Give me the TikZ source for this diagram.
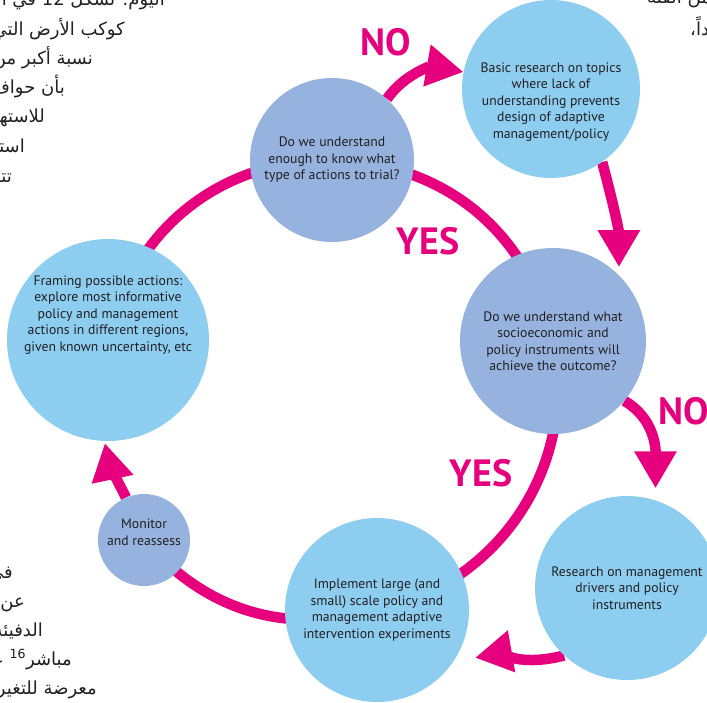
\documentclass[tikz,border=0pt]{standalone}
\usepackage{fontspec}
\setmainfont{PT Sans}
\newfontfamily\arabicfont[Script=Arabic]{DejaVu Sans}
\TeXXeTstate=1
\usetikzlibrary{arrows.meta,backgrounds}
\definecolor{magen}{HTML}{E6007E}
\definecolor{skyblue}{HTML}{8DCDF0}
\definecolor{duskblue}{HTML}{95B3DE}
\definecolor{ink}{HTML}{231F20}
\tikzset{
  bubtext/.style={align=center, text=ink, inner sep=0pt,
                  font=\fontsize{13.7}{16.5}\selectfont},
  bubble/.style={circle, bubtext},
  sky/.style={bubble, fill=skyblue},
  dusk/.style={bubble, fill=duskblue},
  ring/.style={draw=magen, line width=10.5pt},
  ringtip/.style={ring, -{Triangle[width=40pt,length=37pt]}},
  ans/.style={font=\bfseries\fontsize{38}{38}\selectfont, text=magen, inner sep=0pt},
  arline/.style={font=\arabicfont\fontsize{18}{21}\selectfont, text=ink, inner sep=0pt}
}

\begin{document}
\begin{tikzpicture}[x=1pt, y=1pt]
  \useasboundingbox (0,0) rectangle (707,-702);
  \clip (0,0) rectangle (707,-702);

  % text of the page running round the figure
  \node[arline, anchor=base east] (ar1) at (165,-5) {\beginR اليوم. تشكل \beginL 12\endL{} في المئة\endR};
  \node[arline, anchor=base east] (ar2) at (125,-35) {\beginR كوكب الأرض التي\endR};
  \node[arline, anchor=base east] (ar3) at (93,-64) {\beginR نسبة أكبر من\endR};
  \node[arline, anchor=base east] (ar4) at (65,-93) {\beginR بأن حواف\endR};
  \node[arline, anchor=base east] (ar5) at (45,-122) {\beginR للاستهلاك\endR};
  \node[arline, anchor=base east] (ar6) at (25,-152) {\beginR استخدام\endR};
  \node[arline, anchor=base east] (ar7) at (12,-182) {\beginR تتراجع\endR};
  \node[arline, anchor=base east] (ar8) at (13,-578) {\beginR في العالم\endR};
  \node[arline, anchor=base east] (ar9) at (25,-607) {\beginR عن طريق\endR};
  \node[arline, anchor=base east] (ar10) at (43,-636) {\beginR الدفيئة إلى\endR};
  \node[arline, anchor=base east] (ar11) at (72,-665) {\beginR مباشر\textsuperscript{\beginL 16\endL} على\endR};
  \node[arline, anchor=base east] (ar12) at (97,-694) {\beginR معرضة للتغير\endR};
  \node[arline, anchor=base west] (ar13) at (647,-3) {\beginR من الفئة\endR};
  \node[arline, anchor=base west] (ar14) at (690,-35) {\beginR جديداً،\endR};

  % circles
  \node[dusk, minimum size=164pt] (c1) at (332,-160)
    {Do we understand\\enough to know what\\type of actions to trial?};
  \node[sky, minimum size=178pt,
        label={[bubtext, yshift=-13pt]center:{Basic research on topics\\where lack of\\understanding prevents\\design of adaptive\\management/policy}}]
    (c2) at (551,-89) {};
  \node[dusk, minimum size=186pt] (c3) at (553,-341)
    {Do we understand what\\socioeconomic and\\policy instruments will\\achieve the outcome?};
  \node[sky, minimum size=202pt,
        label={[bubtext, yshift=25pt]center:{Framing possible actions:\\explore most informative\\policy and management\\actions in different regions,\\given known uncertainty, etc}}]
    (c4) at (108,-340) {};
  \node[dusk, minimum size=92pt,
        label={[bubtext, yshift=8pt]center:{Monitor\\and reassess}}]
    (c5) at (144,-540) {};
  \node[sky, minimum size=184pt] (c6) at (377,-610)
    {Implement large (and\\small) scale policy and\\management adaptive\\intervention experiments};
  \node[sky, minimum size=184pt] (c7) at (627,-588)
    {Research on management\\drivers and policy\\instruments};

  % the loop and the side branches
  \begin{scope}[on background layer]
    \draw[ring] (c4.center) to[bend left=39] (c1.center);
    \draw[ring] (c1.center) to[bend left=38] (c3.center);
    \draw[ring] (c3.center) to[bend left=45] (c6.center);
    \draw[ring] (c6.center) to[bend left=32] (c5.center);
    \draw[ringtip, shorten >=2pt] (c5.113) to[out=117, in=-78] (c4.268);
    \draw[ringtip] (c1.48) to[out=55, in=170] (c2.169);
    \draw[ringtip, shorten >=8pt] (c2.-55) to[out=-75, in=90] (c3.45);
    \draw[ringtip, shorten >=12pt] (c3.-40) to[out=-30, in=90] (c7.72);
    \draw[ringtip, shorten >=22pt] (c7.-133) to[out=195, in=10] (c6.-34);
  \end{scope}

  \node[ans] (no1) at (386,-42) {NO};
  \node[ans] (yes1) at (428,-241) {YES};
  \node[ans] (no2) at (684,-411) {NO};
  \node[ans] (yes2) at (481,-473) {YES};
\end{tikzpicture}
\end{document}
